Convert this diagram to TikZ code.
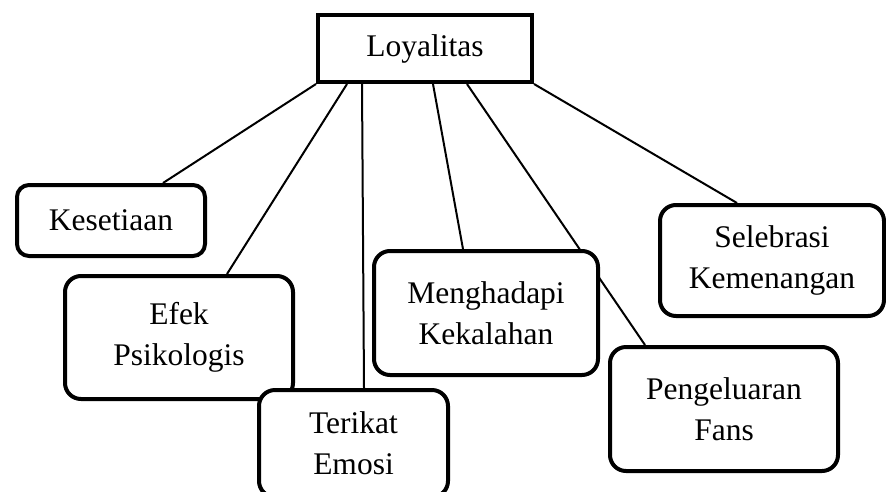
\documentclass[tikz,border=0pt]{standalone}
\usepackage{fontspec}
\setmainfont{Liberation Serif}
\usetikzlibrary{calc,backgrounds}

\begin{document}
\begin{tikzpicture}[x=1pt,y=-1pt,
  label font/.style={font=\fontsize{31.5}{41}\selectfont},
  topbox/.style={draw, line width=4pt, fill=white, inner sep=0pt, label font},
  box/.style={draw, line width=4pt, fill=white, rounded corners=16pt,
    align=center, inner sep=0pt, label font},
  link/.style={line width=2pt}]
\useasboundingbox (0,0) rectangle (886,491);
\clip (0,0) rectangle (886,491);

% central concept
\node[topbox, minimum width=214pt, minimum height=67pt] (loy) at (425,48.5) {Loyalitas};

% aspects
\node[box, rounded corners=12pt, minimum width=188pt, minimum height=71pt] (kes) at (111,220.5) {Kesetiaan};
\node[box, minimum width=228pt, minimum height=123pt] (efek) at (179,337.5) {Efek\\Psikologis};
\node[box, minimum width=189pt, minimum height=107pt] (emosi) at (353.5,443.5) {Terikat\\Emosi};
\node[box, minimum width=224pt, minimum height=124pt] (kalah) at (486,313) {Menghadapi\\Kekalahan};
\node[box, minimum width=224pt, minimum height=111pt] (menang) at (772,260.5) {Selebrasi\\Kemenangan};
\node[box, minimum width=228pt, minimum height=124pt] (fans) at (724,409) {Pengeluaran\\Fans};

% connectors behind the boxes
\begin{scope}[on background layer]
  \draw[link] (loy.south west) -- ($(kes.north west)+(148,0)$);
  \draw[link] ($(loy.south west)+(31,0)$) -- ($(efek.north west)+(164,0)$);
  \draw[link] ($(loy.south west)+(46,0)$) -- ($(emosi.north west)+(107,0)$);
  \draw[link] ($(loy.south west)+(117,0)$) -- ($(kalah.north west)+(91,0)$);
  \draw[link] ($(loy.south west)+(151,0)$) -- ($(fans.north west)+(37,0)$);
  \draw[link] (loy.south east) -- ($(menang.north west)+(79,0)$);
\end{scope}
\end{tikzpicture}
\end{document}
